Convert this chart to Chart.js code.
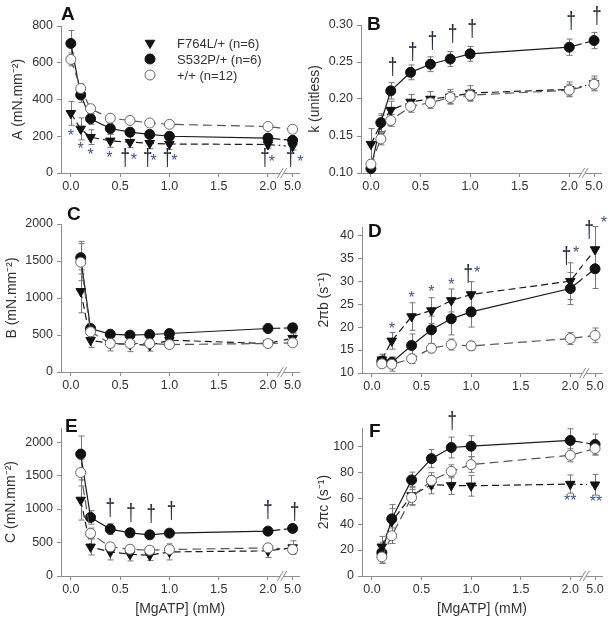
<!DOCTYPE html>
<html>
<head>
<meta charset="utf-8">
<script src="https://cdn.jsdelivr.net/npm/chart.js@4.4.0/dist/chart.umd.min.js"></script>
<style>
  body { margin: 0; background: #fff; }
  canvas { position: absolute; }
</style>
</head>
<body>
<canvas id="cA" width="306" height="200" style="left:0;top:0"></canvas>
<canvas id="cB" width="308" height="200" style="left:306px;top:0"></canvas>
<canvas id="cC" width="306" height="200" style="left:0;top:200px"></canvas>
<canvas id="cD" width="308" height="200" style="left:306px;top:200px"></canvas>
<canvas id="cE" width="306" height="226" style="left:0;top:400px"></canvas>
<canvas id="cF" width="308" height="226" style="left:306px;top:400px"></canvas>
<script>
// MgATP concentrations (mM)
const dosesAB = [0, 0.1, 0.2, 0.4, 0.6, 0.8, 1.0, 2.0, 5.0];
const dosesCF = [0.1, 0.2, 0.4, 0.6, 0.8, 1.0, 2.0, 5.0];
const xTicks = [0, 0.5, 1.0, 1.5, 2.0, 5.0];
const xTickLabels = ['0.0', '0.5', '1.0', '1.5', '2.0', '5.0'];

// y tick values per panel
const yTicksA = [0, 200, 400, 600, 800];
const yTicksB = [0.10, 0.15, 0.20, 0.25, 0.30];
const yTicksC = [0, 500, 1000, 1500, 2000];
const yTicksD = [10, 15, 20, 25, 30, 35, 40];
const yTicksE = [0, 500, 1000, 1500, 2000];
const yTicksF = [0, 20, 40, 60, 80, 100];

// A (mN.mm-2)
const aF764L = [325, 240, 195, 175, 168, 162, 158, 155, 145];
const aF764LErr = [65, 60, 40, 35, 30, 30, 30, 20, 20];
const aS532P = [705, 425, 295, 242, 222, 210, 200, 190, 178];
const aS532PErr = [70, 40, 30, 25, 20, 20, 15, 15, 15];
const aWT = [618, 460, 350, 298, 286, 272, 265, 253, 238];
const aWTErr = [35, 25, 15, 12, 10, 10, 10, 10, 10];

// k (unitless)
const bF764L = [0.139, 0.166, 0.185, 0.196, 0.200, 0.203, 0.208, 0.213, 0.221];
const bF764LErr = [0.021, 0.012, 0.012, 0.010, 0.010, 0.010, 0.010, 0.010, 0.010];
const bS532P = [0.106, 0.168, 0.211, 0.236, 0.247, 0.254, 0.261, 0.270, 0.279];
const bS532PErr = [0.005, 0.012, 0.011, 0.010, 0.010, 0.010, 0.010, 0.011, 0.011];
const bWT = [0.112, 0.146, 0.171, 0.190, 0.195, 0.202, 0.205, 0.212, 0.220];
const bWTErr = [0.005, 0.008, 0.008, 0.008, 0.008, 0.008, 0.008, 0.008, 0.008];

// B (mN.mm-2)
const cF764L = [1090, 430, 385, 375, 362, 430, 385, 457];
const cF764LErr = [290, 100, 100, 100, 80, 60, 50, 60];
const cS532P = [1545, 588, 511, 498, 507, 520, 588, 597];
const cS532PErr = [220, 50, 40, 40, 40, 40, 60, 60];
const cWT = [1484, 543, 385, 385, 385, 371, 385, 394];
const cWTErr = [250, 60, 50, 40, 40, 40, 40, 40];

// 2πb (s-1)
const dF764L = [12.9, 17.0, 22.3, 23.6, 25.8, 27.1, 30.0, 36.9];
const dF764LErr = [1.2, 1.8, 3.0, 2.8, 2.5, 2.8, 4.0, 5.0];
const dS532P = [12.6, 12.3, 16.0, 19.4, 21.8, 23.3, 28.4, 32.7];
const dS532PErr = [1.0, 1.2, 2.5, 3.0, 3.5, 3.3, 3.5, 4.3];
const dWT = [12.0, 11.9, 13.1, 15.4, 16.2, 15.9, 17.5, 18.2];
const dWTErr = [0.8, 1.5, 1.0, 1.0, 1.2, 1.0, 1.3, 1.6];

// C (mN.mm-2)
const eF764L = [1135, 435, 360, 325, 310, 360, 375, 425];
const eF764LErr = [300, 120, 120, 100, 80, 120, 100, 100];
const eS532P = [1820, 875, 700, 645, 615, 640, 670, 710];
const eS532PErr = [270, 100, 80, 60, 50, 50, 50, 50];
const eWT = [1545, 635, 435, 400, 385, 395, 420, 395];
const eWTErr = [200, 80, 60, 50, 50, 50, 50, 50];

// 2πc (s-1)
const fF764L = [22.5, 41.9, 62, 70.3, 69.8, 69.5, 70.8, 70.3];
const fF764LErr = [8, 10, 7, 7, 7, 8, 7, 8];
const fS532P = [18, 44, 74, 90.4, 99, 100, 104.4, 101.3];
const fS532PErr = [8, 11, 6, 7, 8, 8, 9, 8];
const fWT = [14.7, 31, 60.5, 73.6, 80.6, 85.8, 93, 98.2];
const fWTErr = [5, 6, 6, 6, 5, 6, 5, 5];

// significance marks: [symbol, axis position, value]
const annA = [['*', 0.0, 217], ['*', 0.1, 146], ['*', 0.2, 113], ['*', 0.39, 95],
  ['†', 0.55, 72], ['*', 0.64, 86], ['†', 0.78, 72], ['*', 0.84, 80],
  ['†', 0.98, 72], ['*', 1.05, 80], ['†', 1.97, 72], ['*', 2.04, 71],
  ['†', 2.23, 72], ['*', 2.33, 72]];
const annB = [['†', 0.22, 0.241], ['†', 0.42, 0.261], ['†', 0.62, 0.2765], ['†', 0.825, 0.285],
  ['†', 1.02, 0.292], ['†', 2.02, 0.303], ['†', 2.28, 0.3095]];
const annD = [['*', 0.2, 20.0], ['*', 0.4, 26.8], ['*', 0.6, 28.2], ['*', 0.8, 29.8],
  ['†', 0.97, 31.3], ['*', 1.06, 32.2], ['†', 1.96, 35.1], ['*', 2.06, 36.6],
  ['†', 2.19, 40.7], ['*', 2.34, 43.3]];
const annE = [['†', 0.4, 985], ['†', 0.61, 915], ['†', 0.815, 900], ['†', 1.02, 945],
  ['†', 2.0, 955], ['†', 2.27, 930]];
const annF = [['†', 0.81, 118], ['**', 2.0, 59.4], ['**', 2.26, 58.7]];

const FONT = '"Liberation Sans", Arial, sans-serif';
const TXT = '#333';
const AXC = '#8c8c8c';
const BREAK_AT = 2.25;   // where 5.0 sits on the broken axis

function axisPos(d) { return d > 2 ? BREAK_AT : d; }

const STYLES = {
  F: { label: 'F764L/+ (n=6)', borderColor: '#1a1a1a', borderWidth: 1.2, borderDash: [7, 4],
       pointStyle: 'triangle', pointRotation: 180, pointRadius: 5.5,
       pointBackgroundColor: '#111', pointBorderColor: '#111', pointBorderWidth: 1 },
  S: { label: 'S532P/+ (n=6)', borderColor: '#1a1a1a', borderWidth: 1.2,
       pointStyle: 'circle', pointRadius: 5,
       pointBackgroundColor: '#111', pointBorderColor: '#111', pointBorderWidth: 1 },
  W: { label: '+/+ (n=12)', borderColor: '#555', borderWidth: 1.2, borderDash: [9, 5],
       pointStyle: 'circle', pointRadius: 5,
       pointBackgroundColor: '#fff', pointBorderColor: '#666', pointBorderWidth: 1 }
};

function series(kind, doses, vals, errs) {
  return Object.assign({
    data: doses.map((d, i) => ({ x: axisPos(d), y: vals[i] })),
    errs: errs, tension: 0, clip: false
  }, STYLES[kind]);
}

function drawMarker(ctx, kind, x, y) {
  const s = STYLES[kind];
  ctx.save();
  ctx.fillStyle = s.pointBackgroundColor;
  ctx.strokeStyle = s.pointBorderColor;
  ctx.lineWidth = 1;
  ctx.beginPath();
  if (kind === 'F') {
    const r = 5.5;
    ctx.moveTo(x - r * 0.866, y - r * 0.5);
    ctx.lineTo(x + r * 0.866, y - r * 0.5);
    ctx.lineTo(x, y + r);
    ctx.closePath();
  } else {
    ctx.arc(x, y, 5, 0, Math.PI * 2);
  }
  ctx.fill();
  ctx.stroke();
  ctx.restore();
}

function drawMark(ctx, sym, px, py) {
  ctx.save();
  ctx.textAlign = 'center';
  ctx.textBaseline = 'middle';
  if (sym === '†') {
    ctx.fillStyle = '#262a40';
    ctx.font = '16px ' + FONT;
    ctx.translate(px, py);
    ctx.scale(1.05, 1.45);
    ctx.fillText('†', 0, 0);
  } else {
    ctx.fillStyle = '#3b5593';
    ctx.font = '16px ' + FONT;
    ctx.fillText(sym, px, py + 3);
  }
  ctx.restore();
}

const panelPlugin = {
  id: 'panel',
  beforeDatasetsDraw(chart, args, opts) {
    const { ctx } = chart;
    const x = chart.scales.x, y = chart.scales.y;
    ctx.save();
    ctx.strokeStyle = '#777';
    ctx.lineWidth = 1;
    chart.data.datasets.forEach(ds => {
      ds.data.forEach((pt, i) => {
        const e = ds.errs[i];
        const px = Math.round(x.getPixelForValue(pt.x)) + 0.5;
        const y1 = y.getPixelForValue(pt.y + e);
        const y2 = y.getPixelForValue(pt.y - e);
        ctx.beginPath();
        ctx.moveTo(px, y1); ctx.lineTo(px, y2);
        ctx.moveTo(px - 3, y1); ctx.lineTo(px + 3, y1);
        ctx.moveTo(px - 3, y2); ctx.lineTo(px + 3, y2);
        ctx.stroke();
      });
    });
    ctx.restore();
  },
  afterDatasetsDraw(chart, args, opts) {
    const { ctx, chartArea } = chart;
    const x = chart.scales.x, y = chart.scales.y;
    // axis break
    const g1 = x.getPixelForValue(2.125), g2 = x.getPixelForValue(2.16);
    ctx.save();
    ctx.fillStyle = '#fff';
    ctx.fillRect(g1, chartArea.top - 30, g2 - g1, chartArea.bottom - chartArea.top + 31.5);
    ctx.strokeStyle = AXC;
    ctx.lineWidth = 1;
    ctx.beginPath();
    [g1, g2].forEach(bx => {
      ctx.moveTo(bx - 3, chartArea.bottom + 5);
      ctx.lineTo(bx + 3, chartArea.bottom - 5);
    });
    ctx.stroke();
    ctx.restore();

    (opts.marks || []).forEach(m => {
      drawMark(ctx, m[0], x.getPixelForValue(m[1]), y.getPixelForValue(m[2]));
    });

    // panel letter
    ctx.save();
    ctx.font = 'bold 19px ' + FONT;
    ctx.fillStyle = '#111';
    ctx.textBaseline = 'middle';
    ctx.fillText(opts.letter, chartArea.left + opts.lx, chartArea.top + opts.ly);
    ctx.restore();

    if (opts.legend) {
      ctx.save();
      ctx.font = '13px ' + FONT;
      ctx.fillStyle = TXT;
      ctx.textBaseline = 'middle';
      ['F', 'S', 'W'].forEach((k, i) => {
        const ly = chartArea.top + 17 + i * 16;
        drawMarker(ctx, k, chartArea.left + 89, ly);
        ctx.fillText(STYLES[k].label, chartArea.left + 116, ly + 1);
      });
      ctx.restore();
    }
  }
};

function makePanel(id, c) {
  const tickFont = { family: FONT, size: 12.5 };
  new Chart(document.getElementById(id), {
    type: 'line',
    data: { datasets: c.datasets },
    options: {
      responsive: false,
      animation: false,
      layout: { padding: { left: 0, right: c.pr, top: c.pt, bottom: 0 } },
      plugins: {
        legend: { display: false },
        tooltip: { enabled: false },
        panel: c.panel
      },
      scales: {
        x: {
          type: 'linear', min: -0.1, max: 2.32,
          afterBuildTicks: s => { s.ticks = xTicks.map(v => ({ value: axisPos(v) })); },
          afterFit: s => { s.height = c.xh; },
          ticks: { callback: (v, i) => xTickLabels[i], font: tickFont, color: TXT,
                   padding: 2, maxRotation: 0, autoSkip: false },
          grid: { drawOnChartArea: false, drawTicks: true, tickLength: 4, color: AXC },
          border: { color: AXC },
          title: c.xtitle
            ? { display: true, text: '[MgATP] (mM)', color: TXT, font: { family: FONT, size: 14 },
                padding: { top: 0, bottom: 8 } }
            : { display: false }
        },
        y: {
          min: c.ymin, max: c.ymax,
          afterBuildTicks: s => { s.ticks = c.yticks.map(v => ({ value: v })); },
          afterFit: s => { s.width = c.yw; },
          ticks: { font: tickFont, color: TXT, padding: 4, autoSkip: false,
                   callback: v => c.fmt ? v.toFixed(c.fmt) : String(v) },
          grid: { drawOnChartArea: false, drawTicks: true, tickLength: 4, color: AXC },
          border: { color: AXC },
          title: { display: true, text: c.ytitle, color: TXT, font: { family: FONT, size: 14 },
                   padding: { top: c.tp, bottom: 0 } }
        }
      }
    },
    plugins: [panelPlugin]
  });
}

makePanel('cA', {
  datasets: [series('W', dosesAB, aWT, aWTErr), series('S', dosesAB, aS532P, aS532PErr),
             series('F', dosesAB, aF764L, aF764LErr)],
  ymin: 0, ymax: 800, yticks: yTicksA, yw: 61, pr: 5, pt: 26, xh: 27, tp: 10,
  ytitle: 'A (mN.mm⁻²)',
  panel: { marks: annA, letter: 'A', lx: 0, ly: -11, legend: true }
});
makePanel('cB', {
  datasets: [series('W', dosesAB, bWT, bWTErr), series('S', dosesAB, bS532P, bS532PErr),
             series('F', dosesAB, bF764L, bF764LErr)],
  ymin: 0.10, ymax: 0.30, yticks: yTicksB, fmt: 2, yw: 55, pr: 13, pt: 25, xh: 27, tp: 1,
  ytitle: 'k (unitless)',
  panel: { marks: annB, letter: 'B', lx: 6, ly: 0 }
});
makePanel('cC', {
  datasets: [series('W', dosesCF, cWT, cWTErr), series('S', dosesCF, cS532P, cS532PErr),
             series('F', dosesCF, cF764L, cF764LErr)],
  ymin: 0, ymax: 2000, yticks: yTicksC, yw: 61, pr: 5, pt: 24, xh: 28, tp: 4,
  ytitle: 'B (mN.mm⁻²)',
  panel: { marks: [], letter: 'C', lx: 6, ly: -9 }
});
makePanel('cD', {
  datasets: [series('W', dosesCF, dWT, dWTErr), series('S', dosesCF, dS532P, dS532PErr),
             series('F', dosesCF, dF764L, dF764LErr)],
  ymin: 10, ymax: 41.8, yticks: yTicksD, yw: 56, pr: 12, pt: 27, xh: 27, tp: 10,
  ytitle: '2πb (s⁻¹)',
  panel: { marks: annD, letter: 'D', lx: 6, ly: 5 }
});
makePanel('cE', {
  datasets: [series('W', dosesCF, eWT, eWTErr), series('S', dosesCF, eS532P, eS532PErr),
             series('F', dosesCF, eF764L, eF764LErr)],
  ymin: 0, ymax: 2210, yticks: yTicksE, yw: 61, pr: 5, pt: 28, xh: 50, tp: 3, xtitle: true,
  ytitle: 'C (mN.mm⁻²)',
  panel: { marks: annE, letter: 'E', lx: 4, ly: -1 }
});
makePanel('cF', {
  datasets: [series('W', dosesCF, fWT, fWTErr), series('S', dosesCF, fS532P, fS532PErr),
             series('F', dosesCF, fF764L, fF764LErr)],
  ymin: 0, ymax: 114, yticks: yTicksF, yw: 56, pr: 12, pt: 28, xh: 50, tp: 10, xtitle: true,
  ytitle: '2πc (s⁻¹)',
  panel: { marks: annF, letter: 'F', lx: 7, ly: 4 }
});
</script>
</body>
</html>
